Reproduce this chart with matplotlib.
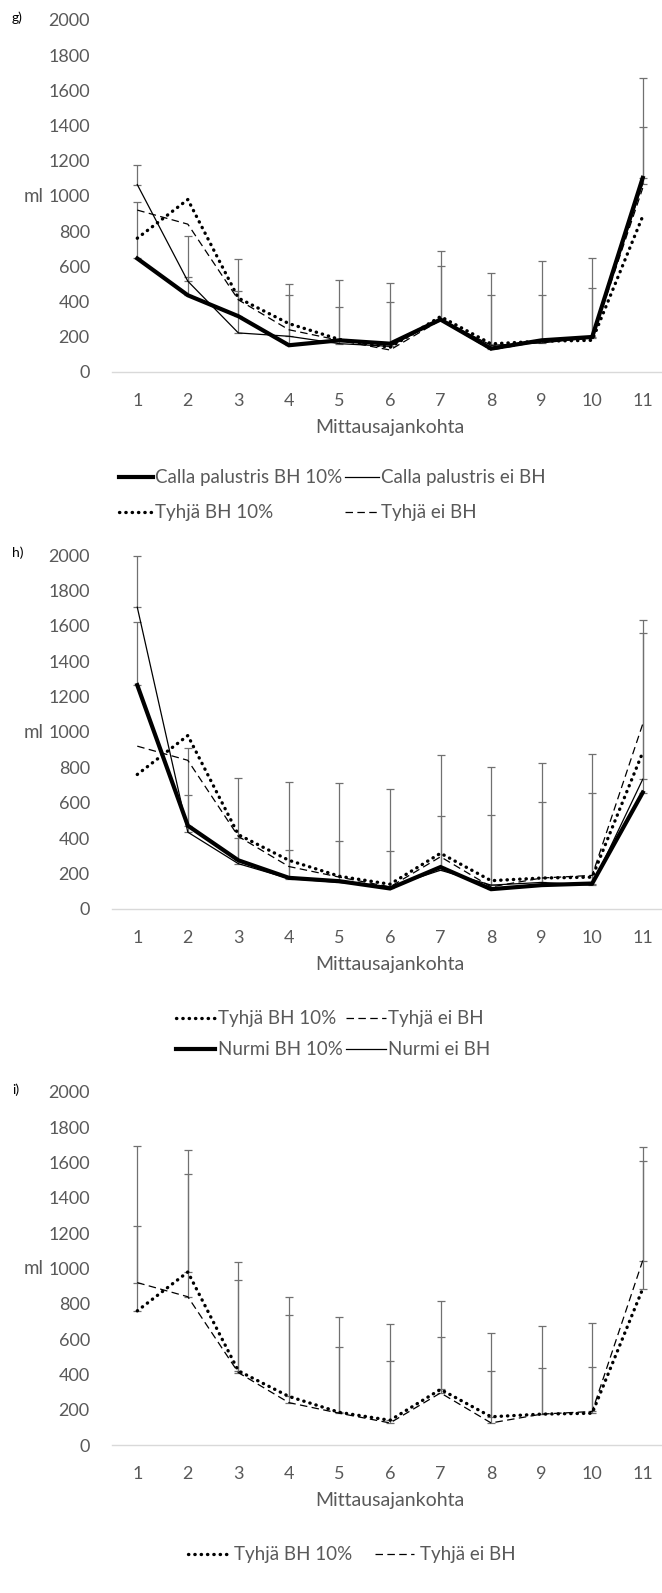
import matplotlib
matplotlib.use('Agg')
import matplotlib.pyplot as plt
from matplotlib.lines import Line2D

plt.rcParams['font.family'] = ['Lato', 'DejaVu Sans']

W, H = 662, 1593
GREY = '#595959'

x = list(range(1, 12))

# Tyhjä (empty) series, same in all three panels
tyhja_bh = [760, 980, 420, 275, 185, 140, 315, 160, 175, 180, 885]
tyhja_ei = [920, 840, 410, 240, 180, 125, 295, 125, 175, 190, 1045]
tyhja_bh_err = [934, 691, 615, 565, 540, 545, 499, 473, 497, 514, 803]
tyhja_ei_err = [319, 696, 526, 497, 375, 350, 319, 292, 263, 253, 566]

# g) Calla palustris
calla_bh = [645, 436, 317, 152, 180, 161, 298, 133, 180, 199, 1103]
calla_ei = [1065, 516, 222, 203, 161, 146, 298, 152, 165, 195, 1070]
calla_bh_err = [320, 339, 323, 348, 340, 344, 392, 427, 450, 451, 567]
calla_ei_err = [110, 24, 238, 237, 209, 254, 302, 288, 275, 285, 320]

# h) Nurmi
nurmi_bh = [1265, 471, 275, 176, 157, 116, 237, 112, 135, 144, 658]
nurmi_ei = [1705, 434, 256, 172, 150, 125, 219, 135, 150, 135, 733]
nurmi_bh_err = [355, 439, 463, 542, 557, 561, 632, 692, 691, 734, 972]
nurmi_ei_err = [290, 209, 146, 164, 237, 202, 308, 398, 452, 523, 828]

thick = dict(color='black', lw=3.0, solid_joinstyle='miter')
thin = dict(color='black', lw=0.9)
dotted = dict(color='black', lw=2.4, linestyle=(0, (0.1, 1.8)), dash_capstyle='round')
dashed = dict(color='black', lw=0.9, linestyle=(0, (6, 3.5)))

fig = plt.figure(figsize=(W / 100, H / 100), dpi=100)


def panel(top, bottom, tag):
    ax = fig.add_axes([112 / W, 1 - bottom / H, 556 / W, (bottom - top) / H])
    ax.set_xlim(0.5, 11.5)
    ax.set_ylim(0, 2000)
    ax.set_xticks(x)
    ax.set_yticks(range(0, 2001, 200))
    for s in ['top', 'right', 'left']:
        ax.spines[s].set_visible(False)
    ax.spines['bottom'].set_color('#d9d9d9')
    ax.spines['bottom'].set_linewidth(1)
    ax.tick_params(length=0, labelsize=13, labelcolor=GREY)
    ax.tick_params(axis='y', pad=16)
    ax.tick_params(axis='x', pad=15)
    ax.set_xlabel('Mittausajankohta', fontsize=14, color=GREY, labelpad=7)
    y1000 = top + (bottom - top) / 2
    fig.text(24 / W, 1 - y1000 / H, 'ml', fontsize=13.5, color=GREY, va='center', ha='left')
    fig.text(12 / W, 1 - (top - 2) / H, tag, fontsize=10, color='black', va='center', ha='left')
    return ax


def err(ax, y, e):
    ax.errorbar(x, y, yerr=[[0] * len(e), e], fmt='none', ecolor='#707070',
                elinewidth=0.9, capsize=3, capthick=0.9, zorder=1)


leg = dict(fontsize=13.5, labelcolor=GREY, frameon=False, borderpad=0,
           handlelength=2.1, handletextpad=0.12, columnspacing=0.2, labelspacing=0.75)

# g)
ax = panel(20, 372, 'g)')
err(ax, calla_bh, calla_bh_err)
err(ax, calla_ei, calla_ei_err)
ax.plot(x, tyhja_bh, **dotted)
ax.plot(x, tyhja_ei, **dashed)
ax.plot(x, calla_ei, **thin)
ax.plot(x, calla_bh, **thick)
h = [Line2D([], [], **thick), Line2D([], [], **dotted),
     Line2D([], [], **thin), Line2D([], [], **dashed)]
l = ['Calla palustris BH 10%', 'Tyhjä BH 10%', 'Calla palustris ei BH', 'Tyhjä ei BH']
leg_g = dict(leg, handlelength=1.8, labelspacing=0.95, columnspacing=0.15)
fig.legend(h, l, ncol=2, loc='upper left', bbox_to_anchor=(110 / W, 1 - 460 / H), **leg_g)

# h)
ax = panel(555, 909, 'h)')
err(ax, nurmi_bh, nurmi_bh_err)
err(ax, nurmi_ei, nurmi_ei_err)
ax.plot(x, tyhja_bh, **dotted)
ax.plot(x, tyhja_ei, **dashed)
ax.plot(x, nurmi_ei, **thin)
ax.plot(x, nurmi_bh, **thick)
h = [Line2D([], [], **dotted), Line2D([], [], **thick),
     Line2D([], [], **dashed), Line2D([], [], **thin)]
l = ['Tyhjä BH 10%', 'Nurmi BH 10%', 'Tyhjä ei BH', 'Nurmi ei BH']
fig.legend(h, l, ncol=2, loc='upper center', bbox_to_anchor=(333 / W, 1 - 1001 / H), **leg)

# i)
ax = panel(1092, 1445, 'i)')
err(ax, tyhja_bh, tyhja_bh_err)
err(ax, tyhja_ei, tyhja_ei_err)
ax.plot(x, tyhja_bh, **dotted)
ax.plot(x, tyhja_ei, **dashed)
h = [Line2D([], [], **dotted), Line2D([], [], **dashed)]
l = ['Tyhjä BH 10%', 'Tyhjä ei BH']
leg_i = dict(leg, handletextpad=0.35, columnspacing=1.2)
fig.legend(h, l, ncol=2, loc='upper center', bbox_to_anchor=(352 / W, 1 - 1537 / H), **leg_i)

fig.savefig('out.png', dpi=100)
